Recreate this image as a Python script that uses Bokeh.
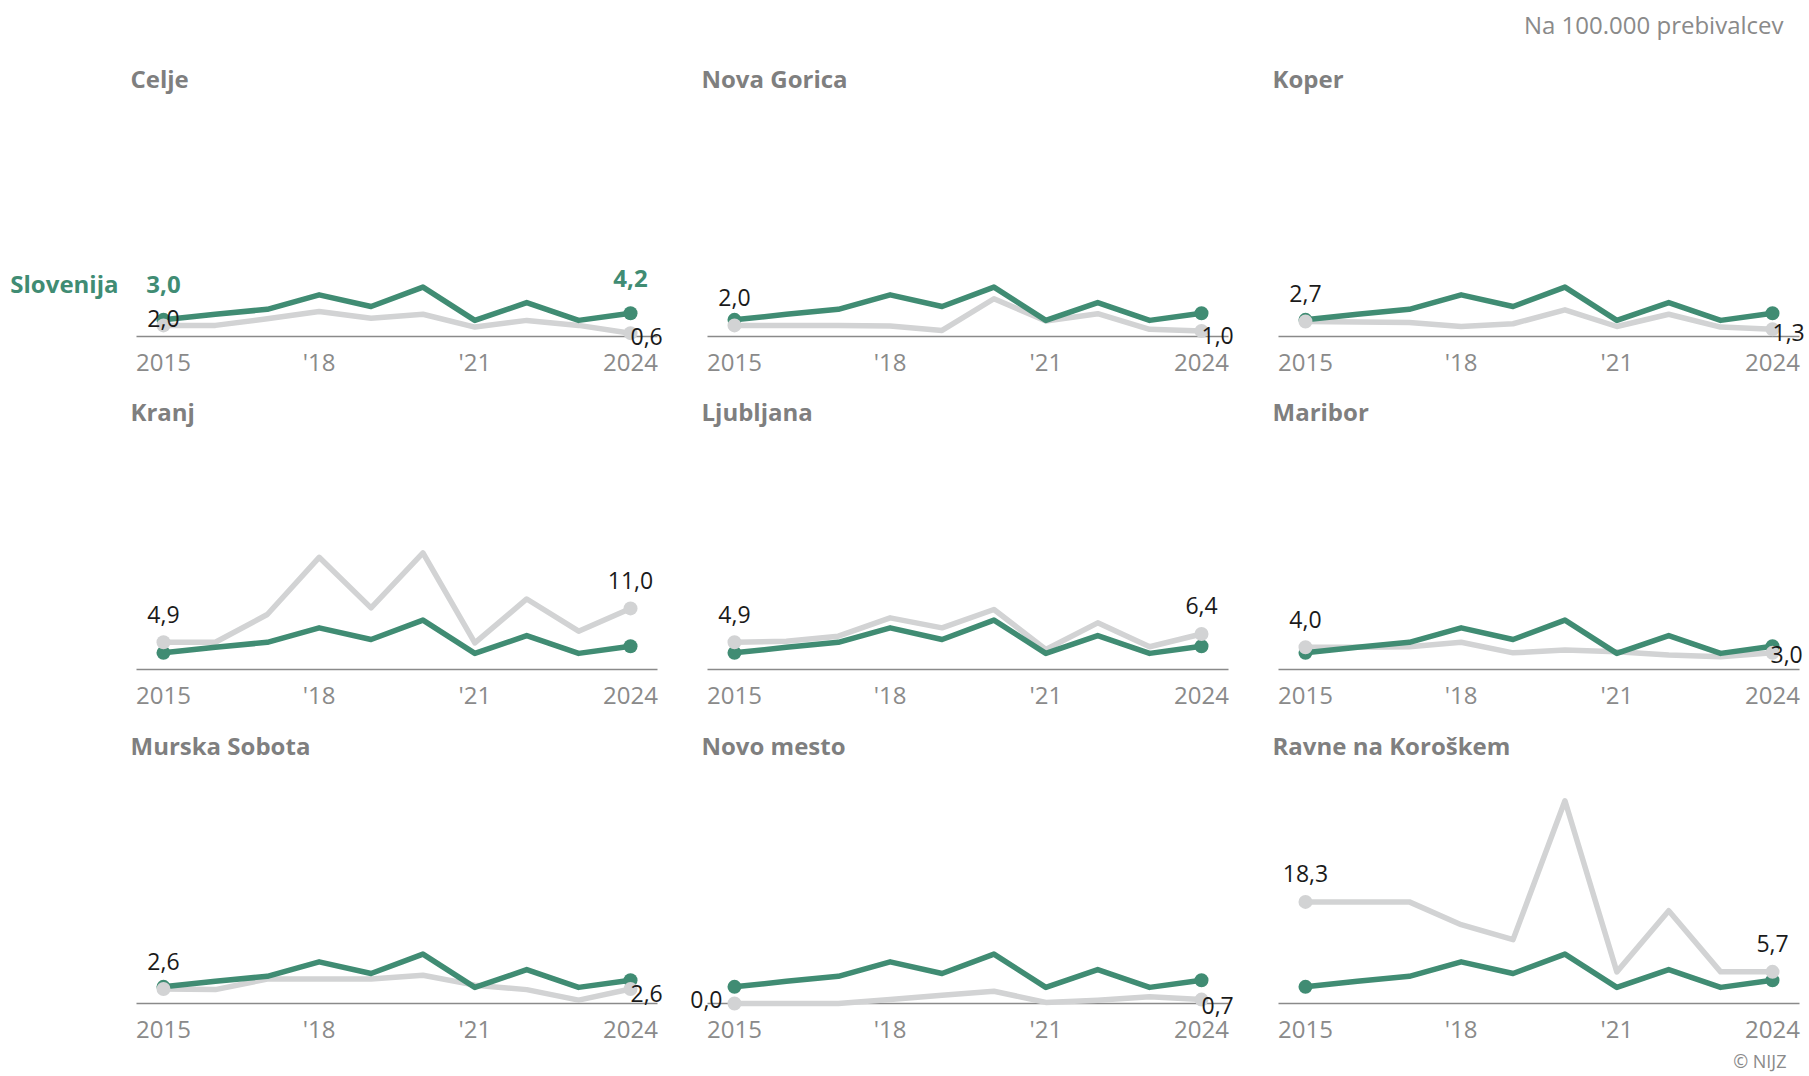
from bokeh.plotting import figure
from bokeh.layouts import column, row
from bokeh.models import Range1d, FixedTicker, Label, ColumnDataSource
from bokeh.embed import file_html
from bokeh.resources import INLINE

# ---------------- data ----------------
years = [2015, 2016, 2017, 2018, 2019, 2020, 2021, 2022, 2023, 2024]
tick_years = [2015, 2018, 2021, 2024]
tick_labels = ["2015", "'18", "'21", "2024"]

national_name = "Slovenija"
slovenija = [3.0, 4.0, 4.9, 7.5, 5.4, 8.9, 2.9, 6.1, 2.9, 4.2]

regions = ["Celje", "Nova Gorica", "Koper",
           "Kranj", "Ljubljana", "Maribor",
           "Murska Sobota", "Novo mesto", "Ravne na Koroškem"]

celje = [2.0, 2.0, 3.2, 4.5, 3.3, 4.0, 1.7, 2.9, 2.0, 0.6]
nova_gorica = [2.0, 2.0, 2.0, 1.9, 1.1, 6.8, 2.8, 4.1, 1.3, 1.0]
koper = [2.7, 2.6, 2.5, 1.8, 2.3, 4.8, 1.8, 4.0, 1.7, 1.3]
kranj = [4.9, 4.9, 9.9, 20.2, 11.1, 21.0, 4.8, 12.7, 6.9, 11.0]
ljubljana = [4.9, 5.1, 6.0, 9.3, 7.5, 10.8, 3.6, 8.4, 4.1, 6.4]
maribor = [4.0, 4.0, 4.1, 4.9, 3.0, 3.5, 3.2, 2.6, 2.3, 3.0]
murska_sobota = [2.6, 2.5, 4.4, 4.4, 4.4, 5.1, 3.3, 2.5, 0.6, 2.6]
novo_mesto = [0.0, 0.0, 0.0, 0.7, 1.5, 2.2, 0.2, 0.6, 1.2, 0.7]
ravne = [18.3, 18.3, 18.3, 14.2, 11.5, 36.5, 5.7, 16.7, 5.7, 5.7]

region_values = [celje, nova_gorica, koper, kranj, ljubljana, maribor,
                 murska_sobota, novo_mesto, ravne]

unit_note = "Na 100.000 prebivalcev"
credit = "© NIJZ"

# ---------------- styles ----------------
GREEN = "#408c73"
GREY_LINE = "#d2d3d4"
AXIS_GREY = "#8a8a8a"
TITLE_GREY = "#7f7f7f"
FONT = "Open Sans"

# label placement (screen px): (x_offset, y_offset, align)
start_place = {"Celje": (0, 7, "center"), "Novo mesto": (-12, 4, "right")}
end_place = {"Kranj": (0, 28, "center"), "Ljubljana": (0, 28, "center"),
             "Ravne na Koroškem": (0, 28, "center"),
             "Celje": (0, -3, "left"), "Nova Gorica": (0, -5, "left"),
             "Koper": (0, -3, "left"), "Maribor": (-2, -2, "left"),
             "Murska Sobota": (0, -4, "left"), "Novo mesto": (0, -6, "left")}

# canvas borders around the data area (px)
col_borders = [(136, 25), (25, 25), (25, 5)]
row_borders = [(80, 50), (27, 50), (28, 69)]
AREA_W, AREA_H = 521, 256
X0, X1 = 2014.48, 2024.52
Y0, Y1 = 0.0, 46.1
PXX = AREA_W / (X1 - X0)
PXY = AREA_H / (Y1 - Y0)


def fmt(v):
    return f"{v:.1f}".replace(".", ",")


def make_panel(idx):
    name = regions[idx]
    vals = region_values[idx]
    r, c = divmod(idx, 3)
    bl, br = col_borders[c]
    bt, bb = row_borders[r]
    xr = Range1d(X0 - bl / PXX, X1 + br / PXX)
    yr = Range1d(Y0 - bb / PXY, Y1 + bt / PXY)
    p = figure(width=bl + AREA_W + br, height=bt + AREA_H + bb,
               x_range=xr, y_range=yr,
               output_backend="svg", toolbar_location=None, title=None,
               y_axis_location=None, min_border=0)
    p.outline_line_color = None
    p.background_fill_color = "white"
    p.border_fill_color = "white"
    p.xgrid.visible = False
    p.ygrid.visible = False
    ax = p.xaxis[0]
    ax.fixed_location = 0
    ax.bounds = (X0, X1)
    ax.ticker = FixedTicker(ticks=tick_years)
    ax.major_label_overrides = {t: l for t, l in zip(tick_years, tick_labels)}
    ax.major_tick_line_color = None
    ax.minor_tick_line_color = None
    ax.major_tick_out = 0
    ax.major_tick_in = 0
    ax.axis_line_color = AXIS_GREY
    ax.axis_line_width = 1.6
    ax.major_label_text_font = FONT
    ax.major_label_text_font_size = "24px"
    ax.major_label_text_color = AXIS_GREY
    ax.major_label_standoff = 8

    src_r = ColumnDataSource(dict(x=years, y=vals))
    src_n = ColumnDataSource(dict(x=years, y=slovenija))
    ends_r = ColumnDataSource(dict(x=[years[0], years[-1]], y=[vals[0], vals[-1]]))
    ends_n = ColumnDataSource(dict(x=[years[0], years[-1]], y=[slovenija[0], slovenija[-1]]))

    rends = []
    rends.append(p.line("x", "y", source=src_r, line_color=GREY_LINE, line_width=5.5,
                        line_join="round", line_cap="round"))
    rends.append(p.line("x", "y", source=src_n, line_color=GREEN, line_width=5.5,
                        line_join="round", line_cap="round"))
    rends.append(p.scatter("x", "y", source=ends_n, size=14, fill_color=GREEN,
                           line_color=None))
    rends.append(p.scatter("x", "y", source=ends_r, size=14, fill_color=GREY_LINE,
                           line_color=None))
    for rr in rends:
        rr.level = "annotation"

    # panel title
    p.add_layout(Label(x=X0, y=Y1, x_offset=-6, y_offset=2, text=name,
                       text_align="left", text_baseline="middle",
                       text_font=FONT, text_font_size="24px",
                       text_font_style="bold", text_color=TITLE_GREY))

    # region value labels
    sx, sy, sa = start_place.get(name, (0, 28, "center"))
    p.add_layout(Label(x=years[0], y=vals[0], x_offset=sx, y_offset=sy,
                       text=fmt(vals[0]), text_align=sa, text_baseline="middle",
                       text_font=FONT, text_font_size="23px", text_color="#1a1a1a"))
    ex, ey, ea = end_place.get(name, (0, 28, "center"))
    p.add_layout(Label(x=years[-1], y=vals[-1], x_offset=ex, y_offset=ey,
                       text=fmt(vals[-1]), text_align=ea, text_baseline="middle",
                       text_font=FONT, text_font_size="23px", text_color="#1a1a1a"))

    if idx == 0:
        p.add_layout(Label(x=years[0], y=slovenija[0], x_offset=-45, y_offset=36,
                           text=national_name, text_align="right",
                           text_baseline="middle", text_font=FONT,
                           text_font_size="24px", text_font_style="bold",
                           text_color=GREEN))
        p.add_layout(Label(x=years[0], y=slovenija[0], x_offset=0, y_offset=35,
                           text=fmt(slovenija[0]), text_align="center",
                           text_baseline="middle", text_font=FONT,
                           text_font_size="24px", text_font_style="bold",
                           text_color=GREEN))
        p.add_layout(Label(x=years[-1], y=slovenija[-1], x_offset=0, y_offset=35,
                           text=fmt(slovenija[-1]), text_align="center",
                           text_baseline="middle", text_font=FONT,
                           text_font_size="24px", text_font_style="bold",
                           text_color=GREEN))
    if idx == 2:
        p.add_layout(Label(x=X1, y=Y1, x_offset=-16, y_offset=56, text=unit_note,
                           text_align="right", text_baseline="middle",
                           text_font=FONT, text_font_size="24px",
                           text_color=AXIS_GREY))
    if idx == 8:
        p.add_layout(Label(x=X1, y=Y0, x_offset=-13, y_offset=-57, text=credit,
                           text_align="right", text_baseline="middle",
                           text_font=FONT, text_font_size="18px",
                           text_color=AXIS_GREY))
    return p


panels = [make_panel(i) for i in range(9)]
layout = column(row(*panels[0:3]), row(*panels[3:6]), row(*panels[6:9]))

open("out.html", "w").write(file_html(layout, INLINE))
